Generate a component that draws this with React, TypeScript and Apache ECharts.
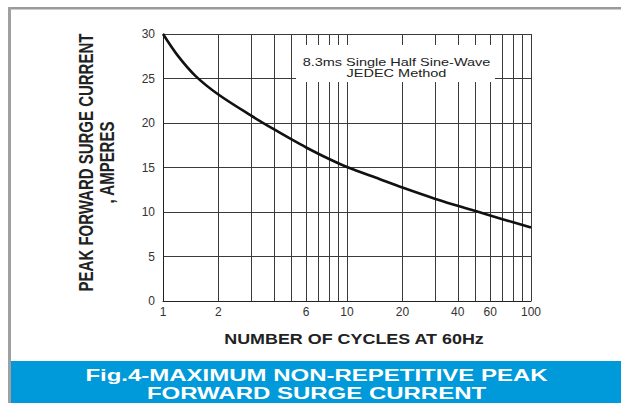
import React, { useEffect, useRef } from "react";
import * as echarts from "echarts";

const cycles = [1, 1.2, 1.5, 2, 3, 4, 5, 6, 8, 10, 15, 20, 30, 40, 50, 60, 80, 100];
const amperes = [30, 27.6, 25.3, 23.2, 20.85, 19.3, 18.15, 17.25, 15.95, 15.05, 13.7, 12.75, 11.5, 10.7, 10.1, 9.6, 8.85, 8.25];

const minorGridValues = [2, 3, 4, 5, 6, 7, 8, 9, 20, 30, 40, 50, 60, 70, 80, 90];
const labelledGridValues = [2, 6, 20, 40, 60];

const yTitleLines = ["PEAK FORWARD SURGE CURRENT", ", AMPERES"];
const xTitle = "NUMBER OF CYCLES AT 60Hz";
const noteLines = ["8.3ms Single Half Sine-Wave", "JEDEC Method"];
const captionLines = ["Fig.4-MAXIMUM NON-REPETITIVE PEAK", "FORWARD SURGE CURRENT"];

const FONT = "'Liberation Sans', Arial, sans-serif";
const GRID_COLOR = "#3a3a3a";

export default function App() {
  const ref = useRef<HTMLDivElement>(null);

  useEffect(() => {
    if (!ref.current) return;
    const chart = echarts.init(ref.current, null, { renderer: "svg" });
    const curve = cycles.map((c, i) => [c, amperes[i]]);

    const option = {
      animation: false,
      backgroundColor: "#ffffff",
      grid: { left: 163, top: 34, right: 90, bottom: 102, containLabel: false },
      xAxis: {
        type: "log",
        logBase: 10,
        min: 1,
        max: 100,
        axisLine: { show: true, lineStyle: { color: "#222", width: 1 } },
        axisTick: { show: false },
        splitLine: { show: true, lineStyle: { color: GRID_COLOR, width: 1 } },
        axisLabel: {
          show: true,
          margin: 5,
          color: "#333",
          fontSize: 12,
          fontFamily: FONT,
          showMinLabel: true,
          showMaxLabel: true,
        },
      },
      yAxis: {
        type: "value",
        min: 0,
        max: 30,
        interval: 5,
        axisLine: { show: true, lineStyle: { color: "#222", width: 1 } },
        axisTick: { show: false },
        splitLine: { show: true, lineStyle: { color: GRID_COLOR, width: 1 } },
        axisLabel: { margin: 8, color: "#333", fontSize: 12, fontFamily: FONT },
      },
      series: [
        {
          type: "line",
          z: 1,
          silent: true,
          data: curve,
          showSymbol: false,
          lineStyle: { opacity: 0 },
          markLine: {
            silent: true,
            symbol: "none",
            animation: false,
            lineStyle: { color: GRID_COLOR, width: 1, type: "solid" },
            label: {
              show: true,
              position: "start",
              distance: 5,
              color: "#333",
              fontSize: 12,
              fontFamily: FONT,
              formatter: (p: any) => String(p.value),
            },
            data: minorGridValues.map((v) => ({
              xAxis: v,
              label: { show: labelledGridValues.includes(v) },
            })),
          },
        },
        {
          type: "line",
          z: 5,
          data: curve,
          smooth: 0.3,
          showSymbol: false,
          silent: true,
          lineStyle: { color: "#111", width: 2.6 },
        },
      ],
      graphic: [
        // frame
        { type: "rect", z: 100, silent: true, shape: { x: 8, y: 7, width: 613, height: 2.5 }, style: { fill: "#9a9a9a" } },
        { type: "rect", z: 100, silent: true, shape: { x: 8, y: 7, width: 3, height: 396 }, style: { fill: "#a0a0a0" } },
        // caption bar
        { type: "rect", z: 100, silent: true, shape: { x: 11, y: 361, width: 610, height: 42 }, style: { fill: "#0099d9" } },
        {
          type: "text", z: 101, silent: true, x: 316.5, y: 375.5, scaleX: 1.5,
          style: { text: captionLines[0], fill: "#fff", font: `bold 16px ${FONT}`, align: "center", verticalAlign: "middle" },
        },
        {
          type: "text", z: 101, silent: true, x: 316.5, y: 394, scaleX: 1.5,
          style: { text: captionLines[1], fill: "#fff", font: `bold 16px ${FONT}`, align: "center", verticalAlign: "middle" },
        },
        // note box
        { type: "rect", z: 100, silent: true, shape: { x: 296, y: 45, width: 199, height: 37 }, style: { fill: "#fff" } },
        {
          type: "text", z: 101, silent: true, x: 396.5, y: 62.5, scaleX: 1.38,
          style: { text: noteLines[0], fill: "#222", font: `10.5px ${FONT}`, align: "center", verticalAlign: "middle" },
        },
        {
          type: "text", z: 101, silent: true, x: 396.5, y: 74, scaleX: 1.38,
          style: { text: noteLines[1], fill: "#222", font: `10.5px ${FONT}`, align: "center", verticalAlign: "middle" },
        },
        // axis titles
        {
          type: "text", z: 101, silent: true, x: 354, y: 338.5, scaleX: 1.28,
          style: { text: xTitle, fill: "#222", font: `bold 14px ${FONT}`, align: "center", verticalAlign: "middle" },
        },
        {
          type: "text", z: 101, silent: true, x: 86, y: 162.5, rotation: Math.PI / 2, scaleY: 1.3,
          style: { text: yTitleLines[0], fill: "#222", font: `bold 15px ${FONT}`, align: "center", verticalAlign: "middle" },
        },
        {
          type: "text", z: 101, silent: true, x: 107.5, y: 162.5, rotation: Math.PI / 2, scaleY: 1.3,
          style: { text: yTitleLines[1], fill: "#222", font: `bold 15px ${FONT}`, align: "center", verticalAlign: "middle" },
        },
      ],
    };

    chart.setOption(option as any);
    return () => chart.dispose();
  }, []);

  return (
    <div
      ref={ref}
      style={{ position: "absolute", left: 0, top: 0, width: 621, height: 403, background: "#fff" }}
    />
  );
}
